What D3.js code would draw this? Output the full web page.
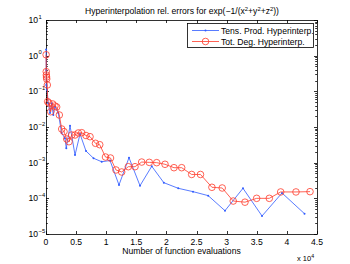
<!DOCTYPE html>
<html>
<head>
<meta charset="utf-8">
<script src="https://cdn.jsdelivr.net/npm/d3@7"></script>
<style>
  body { margin: 0; background: #fff; }
  svg text { font-family: "Liberation Sans", Arial, sans-serif; fill: #000; }
</style>
</head>
<body>
<div class="canvas"></div>
<script>
// Tens. Prod. Hyperinterp. (blue dots)
const tensX = [20, 40, 50, 170, 380, 660, 950, 1210, 1490, 2040, 2590, 3150, 3370, 3990, 4820, 5650,
    6640, 7890, 9250, 10630, 12120, 13780, 15610, 17560, 19560, 21960, 24410, 26930, 29720, 32710,
    35870, 39190, 42930];
const tensErr = [1.49, 0.396, 0.151, 0.109, 0.0462, 0.0247, 0.0462, 0.0217, 0.0371, 0.0247, 0.0068,
    0.00483, 0.00253, 0.0109, 0.00164, 0.00637, 0.00212, 0.00133, 0.00106, 0.00115, 0.000237,
    0.00138, 0.000226, 0.000793, 0.000275, 0.000191, 0.000154, 0.000119, 4.5e-5, 0.000191, 3.2e-5,
    0.000141, 3.7e-5];

// Tot. Deg. Hyperinterp. (red circles)
const totX = [20, 40, 60, 90, 120, 220, 280, 500, 780, 1110, 1490, 1770, 2210, 2610, 2990, 3440,
    3820, 4270, 4820, 5370, 5930, 6640, 7310, 8220, 8920, 9880, 10710, 11620, 12570, 13670, 14780,
    15890, 17150, 18380, 19760, 21250, 22530, 24190, 25650, 27550, 29260, 31090, 33040, 34980,
    37080, 38970, 41510, 43840];
const totErr = [1.06, 0.356, 0.287, 0.252, 0.222, 0.151, 0.0513, 0.0471, 0.0268, 0.0442, 0.0388,
    0.0364, 0.0217, 0.00879, 0.0074, 0.00461, 0.00387, 0.00597, 0.00597, 0.0068, 0.00692, 0.00578,
    0.00535, 0.00349, 0.00319, 0.00144, 0.00135, 0.000624, 0.000548, 0.000771, 0.000771, 0.00104,
    0.00102, 0.001, 0.000901, 0.000723, 0.000723, 0.000467, 0.000467, 0.000204, 0.000195, 8.4e-5,
    7.8e-5, 0.0001, 0.0001, 0.000151, 0.000151, 0.000154];

const xTicks = [0, 5000, 10000, 15000, 20000, 25000, 30000, 35000, 40000, 45000];
const yDecades = [-5, -4, -3, -2, -1, 0, 1];
const legendNames = ['Tens. Prod. Hyperinterp.', 'Tot. Deg. Hyperinterp.'];

const dims = { width: 350, height: 264 };
const plot = { left: 46, right: 317, top: 20, bottom: 234 };
const blue = '#2f5bff';
const red = '#ff3a2a';
const fs = 8.6;

const svg = d3.select('.canvas')
    .append('svg')
    .attr('width', dims.width)
    .attr('height', dims.height)
;

const x = d3.scaleLinear().domain([0, 45000]).range([plot.left, plot.right]);
const y = d3.scaleLog().domain([1e-5, 10]).range([plot.bottom, plot.top]);

// ticks (inward, on all four sides)
const axes = svg.append('g').attr('stroke', '#000').attr('stroke-width', 0.8);
xTicks.forEach(t => {
    const px = Math.round(x(t)) + 0.5;
    axes.append('line').attr('x1', px).attr('x2', px).attr('y1', plot.bottom).attr('y2', plot.bottom - 3);
    axes.append('line').attr('x1', px).attr('x2', px).attr('y1', plot.top).attr('y2', plot.top + 3);
});
yDecades.forEach(e => {
    for (let m = 1; m <= 9; m++) {
        const v = m * Math.pow(10, e);
        if (v > 10) break;
        const py = Math.round(y(v)) + 0.5;
        const len = m === 1 ? 3 : 1.8;
        axes.append('line').attr('x1', plot.left).attr('x2', plot.left + len).attr('y1', py).attr('y2', py);
        axes.append('line').attr('x1', plot.right).attr('x2', plot.right - len).attr('y1', py).attr('y2', py);
    }
});
axes.append('rect')
    .attr('x', plot.left + 0.5).attr('y', plot.top + 0.5)
    .attr('width', plot.right - plot.left).attr('height', plot.bottom - plot.top)
    .attr('fill', 'none');

// tick labels
svg.append('g').selectAll('text').data(xTicks).enter()
    .append('text')
        .attr('x', d => x(d))
        .attr('y', plot.bottom + 11)
        .attr('text-anchor', 'middle')
        .attr('font-size', fs)
        .text(d => d3.format('~g')(d / 1e4))
;
svg.append('g').selectAll('text').data(yDecades).enter()
    .append('text')
        .attr('x', 38)
        .attr('y', d => y(Math.pow(10, d)) + 3)
        .attr('text-anchor', 'end')
        .attr('font-size', fs)
        .text('10')
;
svg.append('g').selectAll('text').data(yDecades).enter()
    .append('text')
        .attr('x', 38.5)
        .attr('y', d => y(Math.pow(10, d)) - 1.5)
        .attr('font-size', 5.8)
        .text(d => d < 0 ? '\u2212' + (-d) : d)
;

// lines
const line = d3.line().x(d => x(d[0])).y(d => y(d[1]));
const tensData = d3.zip(tensX, tensErr);
const totData = d3.zip(totX, totErr);

svg.append('path').datum(tensData)
    .attr('d', line).attr('fill', 'none').attr('stroke', blue).attr('stroke-width', 0.8);
svg.append('g').selectAll('circle').data(tensData).enter()
    .append('circle')
        .attr('cx', d => x(d[0])).attr('cy', d => y(d[1])).attr('r', 1)
        .attr('fill', blue)
;
svg.append('path').datum(totData)
    .attr('d', line).attr('fill', 'none').attr('stroke', red).attr('stroke-width', 0.8);
svg.append('g').selectAll('circle').data(totData).enter()
    .append('circle')
        .attr('cx', d => x(d[0])).attr('cy', d => y(d[1])).attr('r', 3.3)
        .attr('fill', 'none').attr('stroke', red).attr('stroke-width', 0.8)
;

// title
const title = svg.append('text')
    .attr('x', 182)
    .attr('y', 14)
    .attr('text-anchor', 'middle')
    .attr('font-size', fs);
title.append('tspan').text('Hyperinterpolation rel. errors for exp(\u22121/(x');
title.append('tspan').attr('dy', -3).attr('font-size', 5.8).text('2');
title.append('tspan').attr('dy', 3).text('+y');
title.append('tspan').attr('dy', -3).attr('font-size', 5.8).text('2');
title.append('tspan').attr('dy', 3).text('+z');
title.append('tspan').attr('dy', -3).attr('font-size', 5.8).text('2');
title.append('tspan').attr('dy', 3).text('))');

// x label and multiplier
svg.append('text')
    .attr('x', (plot.left + plot.right) / 2)
    .attr('y', 254)
    .attr('text-anchor', 'middle')
    .attr('font-size', fs)
    .text('Number of function evaluations');
const mult = svg.append('text').attr('x', 297).attr('y', 261).attr('font-size', 7.5);
mult.append('tspan').text('x 10');
mult.append('tspan').attr('dy', -3).attr('font-size', 5.2).text('4');

// legend
const legend = svg.append('g');
legend.append('rect')
    .attr('x', 187.5).attr('y', 23.5).attr('width', 126).attr('height', 24)
    .attr('fill', '#fff').attr('stroke', '#000').attr('stroke-width', 0.8);
const colours = [blue, red];
legendNames.forEach((name, i) => {
    const ly = 30.5 + i * 11;
    legend.append('line')
        .attr('x1', 192).attr('x2', 219).attr('y1', ly).attr('y2', ly)
        .attr('stroke', colours[i]).attr('stroke-width', 0.8);
    if (i === 0) {
        legend.append('circle').attr('cx', 205.5).attr('cy', ly).attr('r', 1).attr('fill', blue);
    } else {
        legend.append('circle').attr('cx', 205.5).attr('cy', ly).attr('r', 3.3)
            .attr('fill', 'none').attr('stroke', red).attr('stroke-width', 0.8);
    }
    legend.append('text')
        .attr('x', 221).attr('y', ly + 3)
        .attr('font-size', fs)
        .text(name);
});
</script>
</body>
</html>
